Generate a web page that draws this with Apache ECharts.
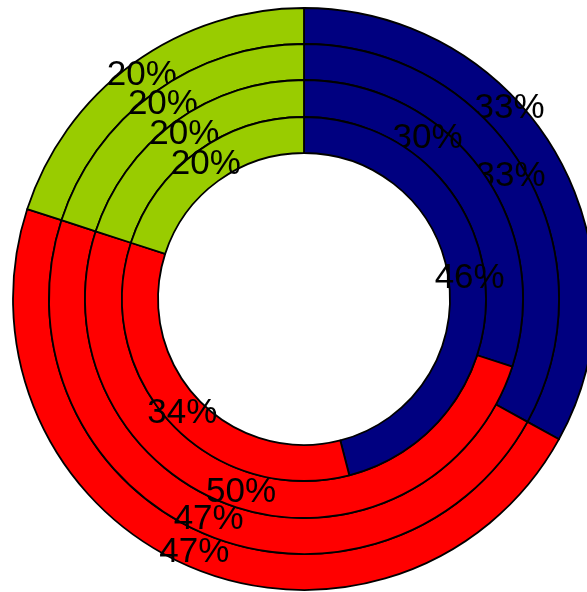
<!DOCTYPE html>
<html>
<head>
<meta charset="utf-8">
<script src="https://cdn.jsdelivr.net/npm/echarts@6/dist/echarts.min.js"></script>
<style>
html,body{margin:0;padding:0;background:#fff;}
#chart{width:587px;height:592px;}
</style>
</head>
<body>
<div id="chart"></div>
<script>
// Data: rings from outer to inner
const categories = ['Navy', 'Red', 'Green'];
const navyValues  = [33, 33, 30, 46];
const redValues   = [47, 47, 50, 34];
const greenValues = [20, 20, 20, 20];

const colors = ['#000080', '#FF0000', '#99CC00'];
const ringRadii = [[255, 291], [219, 255], [182, 219], [146, 182]];
// label nudges for the navy labels (style only)
const navyLabelShift = [[-32, -50], [0, 0], [-41, -41], [0, 0]];

const chart = echarts.init(document.getElementById('chart'), null, {renderer: 'canvas'});

const series = ringRadii.map((r, i) => ({
  type: 'pie',
  center: [304, 299],
  radius: r,
  startAngle: 90,
  clockwise: true,
  avoidLabelOverlap: false,
  silent: true,
  animation: false,
  z: 2 + i,
  itemStyle: { borderColor: '#000', borderWidth: 1.8 },
  label: {
    show: true,
    position: 'inside',
    color: '#000',
    fontFamily: 'Liberation Sans, Arial, sans-serif',
    fontSize: 35,
    textBorderWidth: 0,
    formatter: p => p.value + '%'
  },
  labelLine: { show: false },
  emphasis: { disabled: true },
  labelLayout: function (params) {
    if (params.dataIndex === 0) {
      return { dx: navyLabelShift[i][0], dy: navyLabelShift[i][1] };
    }
    return {};
  },
  data: [
    { name: categories[0], value: navyValues[i],  itemStyle: { color: colors[0] } },
    { name: categories[1], value: redValues[i],   itemStyle: { color: colors[1] } },
    { name: categories[2], value: greenValues[i], itemStyle: { color: colors[2] } }
  ]
}));

chart.setOption({
  backgroundColor: '#fff',
  animation: false,
  series: series
});
</script>
</body>
</html>
